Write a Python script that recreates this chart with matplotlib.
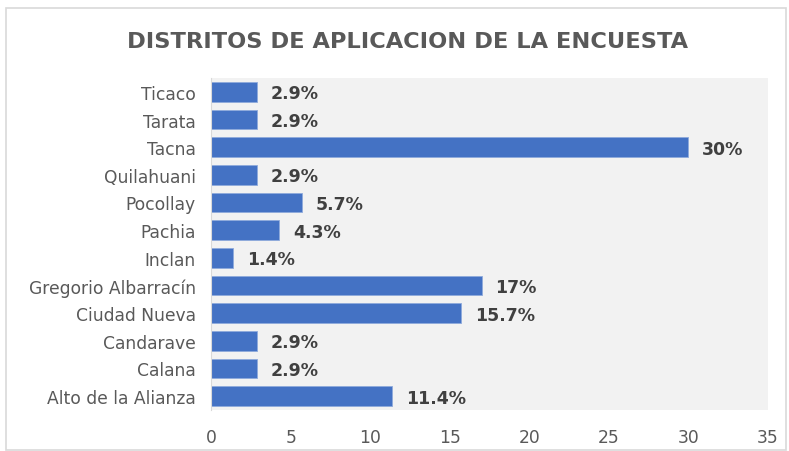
"""Horizontal bar chart: survey districts, share of respondents (%)."""

import matplotlib
matplotlib.use("Agg")
import matplotlib.pyplot as plt
from matplotlib.patches import Rectangle

districts = ["Alto de la Alianza", "Calana", "Candarave", "Ciudad Nueva",
             "Gregorio Albarracín", "Inclan", "Pachia", "Pocollay",
             "Quilahuani", "Tacna", "Tarata", "Ticaco"]
shares = [11.4, 2.9, 2.9, 15.7, 17, 1.4, 4.3, 5.7, 2.9, 30, 2.9, 2.9]
share_labels = ["11.4%", "2.9%", "2.9%", "15.7%", "17%", "1.4%", "4.3%",
                "5.7%", "2.9%", "30%", "2.9%", "2.9%"]
x_ticks = [0, 5, 10, 15, 20, 25, 30, 35]

BAR = "#4472C4"
TEXT = "#595959"

fig = plt.figure(figsize=(7.89, 4.52), dpi=100)
fig.patches.append(Rectangle((6 / 789, 0.002), 780 / 789, 1 - 9 / 452 - 0.002,
                             transform=fig.transFigure, fill=False,
                             edgecolor="#D9D9D9", linewidth=1.2))

ax = fig.add_axes([211 / 789, 41 / 452, 557 / 789, 332 / 452])
ax.set_facecolor("#F2F2F2")

y = range(len(districts))
ax.barh(y, shares, height=0.72, color=BAR, edgecolor="#8FAADC", linewidth=0.6)
for yi, v, lab in zip(y, shares, share_labels):
    ax.annotate(lab, (v, yi), xytext=(10, -1), textcoords="offset points",
                va="center", ha="left", fontsize=12.5, fontweight="bold",
                color="#404040")

ax.set_xlim(0, 35)
ax.set_ylim(-0.5, len(districts) - 0.5)
ax.set_xticks(x_ticks)
ax.set_yticks(list(y))
ax.set_yticklabels(districts)
ax.tick_params(axis="both", length=0, labelsize=12.3, labelcolor=TEXT)
ax.tick_params(axis="x", pad=13)
ax.tick_params(axis="y", pad=11)
for side in ("top", "right", "bottom"):
    ax.spines[side].set_visible(False)
ax.spines["left"].set_color("#D9D9D9")

fig.text(0.517, (452 - 42) / 452, "DISTRITOS DE APLICACION DE LA ENCUESTA",
         ha="center", va="center", fontsize=16.2, fontweight="bold",
         color=TEXT)

fig.savefig("out.png", dpi=100)
